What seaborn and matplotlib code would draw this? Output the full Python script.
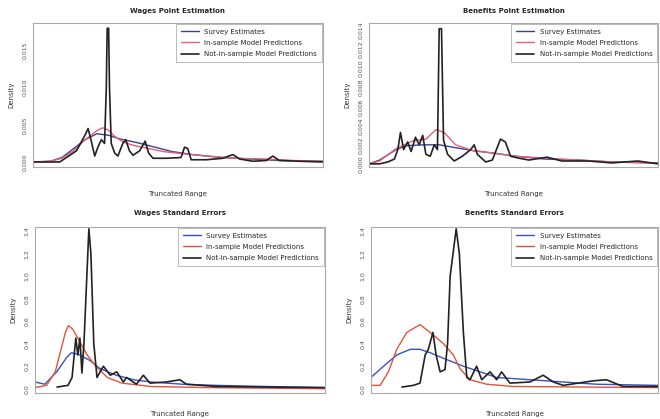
#!/usr/bin/env python3
import numpy as np
import pandas as pd
import matplotlib
matplotlib.use("Agg")
import matplotlib.pyplot as plt
import seaborn as sns

# ---- data (x on a 0-100 truncated range) ----
labels = ["Survey Estimates", "In-sample Model Predictions", "Not-in-sample Model Predictions"]
titles = ["Wages Point Estimation", "Benefits Point Estimation",
          "Wages Standard Errors", "Benefits Standard Errors"]

# Wages point estimation
wp_survey_x = [0, 6, 10, 14, 18, 22, 26, 30, 36, 42, 48, 55, 65, 75, 85, 100]
wp_survey_y = [0, 0.0001, 0.0006, 0.0018, 0.0030, 0.0038, 0.0036, 0.0031, 0.0026, 0.0020,
               0.0014, 0.0010, 0.0006, 0.0004, 0.0002, 0.0001]
wp_insample_x = [0, 6, 10, 14, 18, 20, 22, 24, 26, 28, 31, 35, 40, 45, 52, 60, 70, 80, 90, 100]
wp_insample_y = [0, 0.0001, 0.0005, 0.0015, 0.0030, 0.0036, 0.0042, 0.0046, 0.0043, 0.0035,
                 0.0027, 0.0022, 0.0018, 0.0014, 0.0011, 0.0008, 0.0005, 0.0004, 0.0002, 0.0001]
wp_notin_x = [0, 9.2, 15, 17.8, 19, 20, 21.3, 22.4, 23.6, 24.7, 25.3, 25.6, 26.1, 26.4, 27,
              28.2, 29.3, 31, 32, 33.3, 34.5, 36.8, 38.7, 39.9, 41.4, 46, 51.1, 52.3, 53.4,
              54.6, 59.8, 65.5, 69, 71.3, 75.9, 80.5, 82.8, 85, 92, 100]
wp_notin_y = [0, 0, 0.0015, 0.0035, 0.0045, 0.0030, 0.0008, 0.0020, 0.0030, 0.0025, 0.0100,
              0.0180, 0.0180, 0.0100, 0.0025, 0.0012, 0.0008, 0.0025, 0.0030, 0.0015, 0.0009,
              0.0015, 0.0028, 0.0012, 0.0005, 0.0005, 0.0006, 0.0020, 0.0018, 0.0003, 0.0003,
              0.0005, 0.0010, 0.0004, 0.0001, 0.0002, 0.0008, 0.0002, 0.0001, 0]

# Benefits point estimation
bp_survey_x = [0, 3.7, 9.4, 12.8, 18.6, 24.3, 30, 35.8, 43.8, 50.7, 61, 72.5, 84, 100]
bp_survey_y = [0, 0.0004, 0.0015, 0.0019, 0.0020, 0.0020, 0.0017, 0.0014, 0.0011, 0.0008,
               0.0005, 0.0004, 0.0002, 0.0001]
bp_insample_x = [0, 3.7, 9.4, 15.1, 19.7, 23.2, 26, 30, 35.8, 43.8, 50.7, 61, 72.5, 84, 100]
bp_insample_y = [0, 0.0003, 0.0016, 0.0024, 0.0026, 0.0036, 0.0033, 0.0020, 0.0014, 0.0011,
                 0.0008, 0.0006, 0.0004, 0.0002, 0.00005]
bp_notin_x = [0, 3.7, 6.5, 8.8, 10, 10.9, 12, 13.4, 14.6, 16.1, 17.4, 18.6, 19.7, 21.2, 22.6,
              23.7, 24.3, 25.1, 25.8, 27.2, 29.5, 32.3, 35.2, 36.4, 37.5, 40.4, 42.7, 45.5,
              47.2, 49, 51.8, 55.3, 61.6, 66.7, 75.9, 84, 93, 100]
bp_notin_y = [0, 0, 0.0002, 0.0005, 0.0015, 0.0033, 0.0015, 0.0023, 0.0013, 0.0028, 0.0020,
              0.0030, 0.0010, 0.0008, 0.0020, 0.0015, 0.0142, 0.0142, 0.0025, 0.0010, 0.0003,
              0.0008, 0.0015, 0.0020, 0.0010, 0.0002, 0.0004, 0.0026, 0.0023, 0.0008, 0.0006,
              0.0004, 0.0007, 0.0003, 0.0003, 0.0001, 0.0003, 0]

# Wages standard errors
ws_survey_x = [0, 3.4, 7.5, 11, 12.6, 15.5, 19, 22.4, 28, 34, 40, 45.4, 51, 62.6, 80, 100]
ws_survey_y = [0.06, 0.04, 0.15, 0.28, 0.32, 0.30, 0.25, 0.18, 0.12, 0.08, 0.06, 0.05,
               0.04, 0.03, 0.02, 0.01]
ws_insample_x = [0, 4, 7, 9, 10.5, 11.5, 13, 15, 18, 21, 25, 30, 40, 60, 100]
ws_insample_y = [0.01, 0.03, 0.15, 0.35, 0.50, 0.56, 0.53, 0.44, 0.30, 0.20, 0.10, 0.05,
                 0.02, 0.01, 0]
ws_notin_x = [7.6, 11.4, 12.8, 14.1, 14.8, 15.5, 16.2, 16.9, 17.9, 18.6, 19.3, 20.3, 21.4,
              23.6, 26, 28.2, 30.5, 31.6, 35, 37.4, 39.7, 45.4, 50, 52.3, 62.6, 80, 100]
ws_notin_y = [0.015, 0.03, 0.10, 0.45, 0.30, 0.45, 0.14, 0.40, 1.00, 1.42, 1.20, 0.40, 0.10,
              0.20, 0.12, 0.15, 0.06, 0.10, 0.04, 0.12, 0.05, 0.06, 0.08, 0.04, 0.02, 0.015,
              0.01]

# Benefits standard errors
bs_survey_x = [0, 4.4, 9, 13.7, 17.1, 20.6, 25.3, 32.2, 38, 43.8, 55.4, 67, 78.6, 100]
bs_survey_y = [0.10, 0.20, 0.30, 0.35, 0.35, 0.32, 0.27, 0.20, 0.15, 0.10, 0.08, 0.06,
               0.04, 0.03]
bs_insample_x = [0, 3.2, 6.1, 9, 12.5, 17.1, 20.6, 25.3, 28.7, 31, 34.5, 40.3, 49.6, 100]
bs_insample_y = [0.03, 0.03, 0.15, 0.35, 0.50, 0.57, 0.50, 0.40, 0.30, 0.18, 0.08, 0.04,
                 0.02, 0.01]
bs_notin_x = [10.8, 14.8, 17.1, 18.9, 20, 21.6, 22.7, 24.1, 25.8, 26.7, 27.6, 29.7, 30.8,
              32.2, 33.4, 34.5, 36.8, 38.6, 41.5, 43.8, 45.5, 48.4, 55.4, 60, 63.5, 67,
              77.4, 82, 87.8, 100]
bs_notin_y = [0.015, 0.03, 0.05, 0.30, 0.35, 0.50, 0.30, 0.15, 0.17, 0.40, 1.00, 1.42, 1.20,
              0.50, 0.10, 0.08, 0.20, 0.08, 0.15, 0.08, 0.15, 0.05, 0.06, 0.12, 0.06, 0.03,
              0.07, 0.08, 0.02, 0.02]

panels = [
    [(wp_survey_x, wp_survey_y), (wp_insample_x, wp_insample_y), (wp_notin_x, wp_notin_y)],
    [(bp_survey_x, bp_survey_y), (bp_insample_x, bp_insample_y), (bp_notin_x, bp_notin_y)],
    [(ws_survey_x, ws_survey_y), (ws_insample_x, ws_insample_y), (ws_notin_x, ws_notin_y)],
    [(bs_survey_x, bs_survey_y), (bs_insample_x, bs_insample_y), (bs_notin_x, bs_notin_y)],
]
yticks = [
    [0, 0.005, 0.010, 0.015],
    [0, 0.002, 0.004, 0.006, 0.008, 0.010, 0.012, 0.014],
    [0, 0.2, 0.4, 0.6, 0.8, 1.0, 1.2, 1.4],
    [0, 0.2, 0.4, 0.6, 0.8, 1.0, 1.2, 1.4],
]
ytick_labels = [
    ["0.000", "0.005", "0.010", "0.015"],
    ["0.000", "0.002", "0.004", "0.006", "0.008", "0.010", "0.012", "0.014"],
    ["0.0", "0.2", "0.4", "0.6", "0.8", "1.0", "1.2", "1.4"],
    ["0.0", "0.2", "0.4", "0.6", "0.8", "1.0", "1.2", "1.4"],
]
ylims = [(-0.0007, 0.0187), (-0.00035, 0.0148), (-0.038, 1.435), (-0.038, 1.435)]

top_colors = ["#3b3f8f", "#e0607a", "#222222"]
bottom_colors = ["#3452c0", "#e0553a", "#222222"]

# axes rectangles in figure fractions (left, bottom, width, height)
rects = [
    (0.050, 0.601, 0.439, 0.344),
    (0.559, 0.601, 0.438, 0.344),
    (0.053, 0.062, 0.439, 0.396),
    (0.562, 0.062, 0.435, 0.396),
]

sns.set_style("white")
plt.rcParams["font.family"] = ["DejaVu Sans"]

fig = plt.figure(figsize=(6.6, 4.19), dpi=100)

for i, series in enumerate(panels):
    ax = fig.add_axes(rects[i])
    colors = top_colors if i < 2 else bottom_colors
    for j, (xs, ys) in enumerate(series):
        df = pd.DataFrame({"x": xs, "y": ys})
        sns.lineplot(data=df, x="x", y="y", ax=ax, color=colors[j],
                     lw=1.0 if j < 2 else 1.2, estimator=None, sort=False,
                     label=labels[j])
    ax.set_xlim(0, 100)
    ax.set_ylim(*ylims[i])
    ax.set_xticks([])
    ax.set_yticks(yticks[i])
    ax.set_yticklabels(ytick_labels[i], rotation=90, va="center", fontsize=4.5,
                       color="#555555")
    ax.tick_params(axis="y", length=2.5, width=0.6, color="#999999", pad=1.5)
    for sp in ax.spines.values():
        sp.set_color("#aaaaaa")
        sp.set_linewidth(0.8)
    ax.set_title(titles[i], fontsize=5, fontweight="bold", pad=7 if i < 2 else 9)
    ax.set_xlabel("Truncated Range", fontsize=5, labelpad=17 if i < 2 else 13,
                  color="#333333")
    ax.set_ylabel("Density", fontsize=5, labelpad=6, color="#333333")
    leg = ax.legend(loc="upper right", fontsize=5, frameon=True, fancybox=False,
                    borderaxespad=0.1, handlelength=2.6, borderpad=0.7,
                    labelspacing=0.75)
    leg.get_frame().set_edgecolor("#aaaaaa")
    leg.get_frame().set_linewidth(0.7)

fig.savefig("out.png", dpi=100)
